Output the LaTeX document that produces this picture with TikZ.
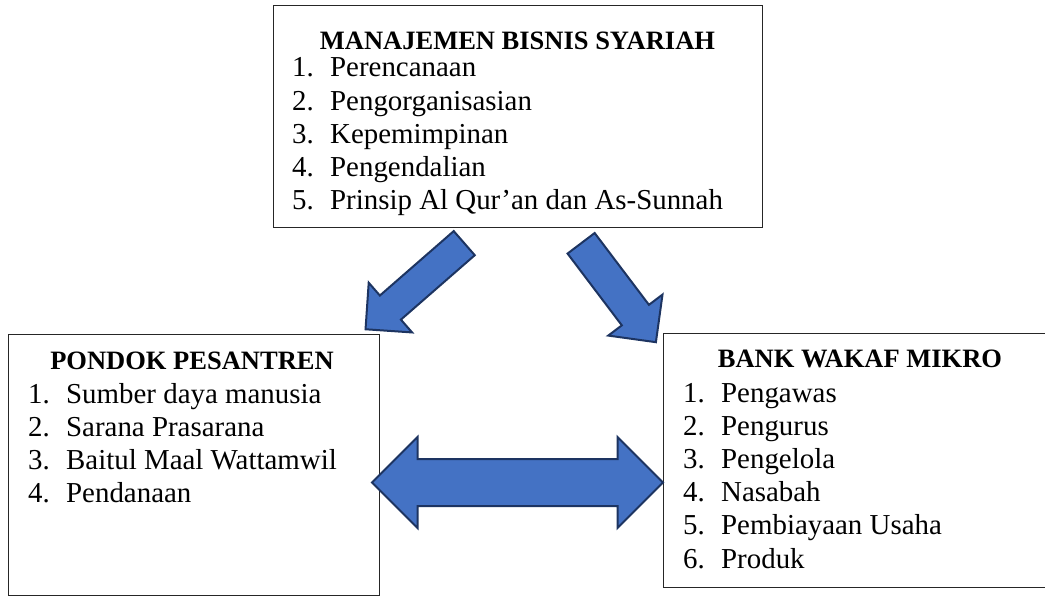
\documentclass[tikz,border=0pt]{standalone}
\usepackage{fontspec}
\setmainfont{Liberation Serif}
\usepackage{tikz}
\usepackage{xcolor}
\usetikzlibrary{shapes.arrows}
\definecolor{arrowblue}{HTML}{4472C4}
\definecolor{arrowedge}{HTML}{1D3461}
\tikzset{
	panel/.style={draw=black!85,line width=1.2pt,inner sep=0pt,anchor=north west},
	head/.style={font=\fontsize{26.5}{30}\selectfont\bfseries,inner sep=0pt,anchor=base},
	item/.style={font=\fontsize{28.9}{33}\selectfont,inner sep=0pt,anchor=base west},
	blockarrow/.style={fill=arrowblue,draw=arrowedge,line width=2pt,inner xsep=0pt}
}
\newcommand{\listitem}[2]{\makebox[38pt][l]{#1.}#2}

\begin{document}
\begin{tikzpicture}[x=1pt,y=-1pt]
		\useasboundingbox (0,0) rectangle (1045,596);
		\node[panel,minimum width=489pt,minimum height=222pt] (msb) at (273,5) {};
		\node[head] (msbhead) at (517.5,50) {MANAJEMEN BISNIS SYARIAH};
		\foreach \t [count=\i] in {Perencanaan,Pengorganisasian,Kepemimpinan,Pengendalian,Prinsip Al Qur’an dan As-Sunnah}
			\node[item] (msb-\i) at (292,{77+33.1*(\i-1)}) {\listitem{\i}{\t}};
		\node[panel,minimum width=371pt,minimum height=261pt] (pondok) at (8,334) {};
		\node[head] (pondokhead) at (192,369) {PONDOK PESANTREN};
		\foreach \t [count=\i] in {Sumber daya manusia,Sarana Prasarana,Baitul Maal Wattamwil,Pendanaan}
			\node[item] (pondok-\i) at (28,{403+33.3*(\i-1)}) {\listitem{\i}{\t}};
		\node[panel,minimum width=392pt,minimum height=254pt] (bwm) at (663,333) {};
		\node[head] (bwmhead) at (860,367) {BANK WAKAF MIKRO};
		\foreach \t [count=\i] in {Pengawas,Pengurus,Pengelola,Nasabah,Pembiayaan Usaha,Produk}
			\node[item] (bwm-\i) at (683,{402+33.2*(\i-1)}) {\listitem{\i}{\t}};
		\node[blockarrow,single arrow,anchor=tail,rotate=221.1,minimum height=131pt,minimum width=64pt,inner ysep=15pt,single arrow head extend=17pt] (topondok) at (465,242.5) {};
		\node[blockarrow,single arrow,anchor=tail,rotate=307.1,minimum height=124pt,minimum width=66pt,inner ysep=16pt,single arrow head extend=17pt] (tobwm) at (580.5,242.5) {};
		\node[blockarrow,double arrow,minimum height=291pt,minimum width=89pt,inner ysep=22.5pt,double arrow head extend=22pt] (link) at (517.5,482.5) {};
	\end{tikzpicture}
\end{document}
